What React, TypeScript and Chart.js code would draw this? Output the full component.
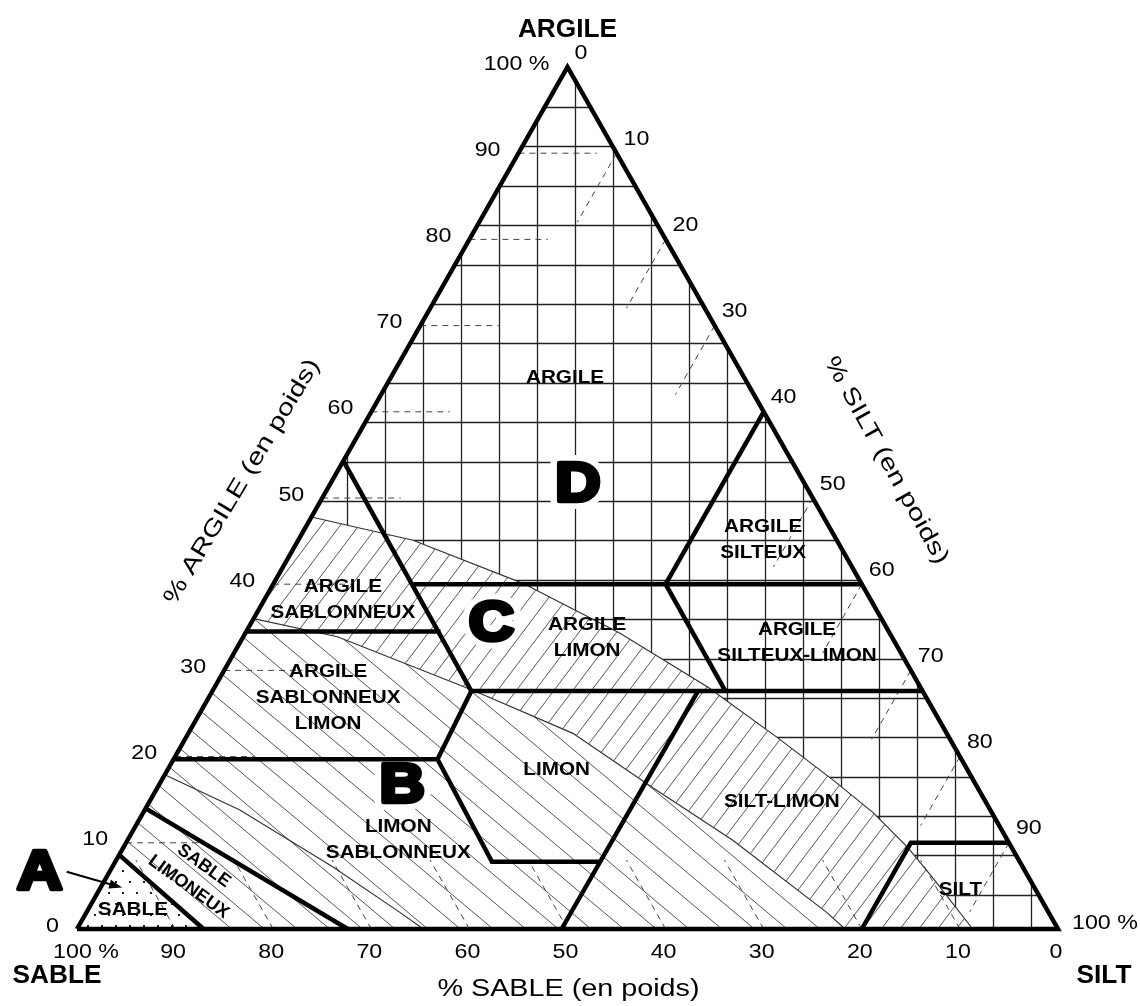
import React, { useEffect, useRef } from "react";
import { Chart, registerables } from "chart.js";

Chart.register(...registerables);

// ---- Soil texture triangle. Every point is [silt %, clay %]; sand % = 100 - silt - clay ----
const outlineSilt = [0, 100, 0, 0];
const outlineClay = [0, 0, 100, 0];

// class boundaries (thick lines)
const sableSilt = [0, 12.9];
const sableClay = [8.6, 0];
const sableLimoneuxSilt = [0, 27.6];
const sableLimoneuxClay = [14, 0];
const limonSablonneuxSilt = [0, 26.9, 38.4, 49.3];
const limonSablonneuxClay = [19.7, 19.7, 7.8, 7.8];
const limonRightSilt = [49.4, 49.5];
const limonRightClay = [0, 27.6];
const limonLeftSilt = [26.9, 26.4];
const limonLeftClay = [19.7, 27.6];
const clay27Silt = [26.4, 72.4];
const clay27Clay = [27.6, 27.6];
const sand45Silt = [0, 26.4];
const sand45Clay = [54.3, 27.6];
const clay35Silt = [0, 19.8];
const clay35Clay = [34.5, 34.5];
const clay40Silt = [14.3, 60];
const clay40Clay = [40, 40];
const silt40Silt = [40, 40];
const silt40Clay = [40, 60];
const sand20Silt = [40, 52.3];
const sand20Clay = [40, 27.6];
const siltClassSilt = [80, 80, 90];
const siltClassClay = [0, 10, 10];

// zone curves (thin lines)
const upperCurveSilt = [0, 11.7, 25.4, 38.2, 50.2, 60.3, 68.4, 74.4, 79.9, 84.2, 91.3];
const upperCurveClay = [47.8, 45.1, 40.1, 34.3, 28.1, 22.2, 17.3, 13.5, 9.5, 6.0, 0];
const lowerCurveSilt = [0, 9.6, 26.5, 39.2, 50.5, 61.7, 75.5, 78.3];
const lowerCurveClay = [36, 33.9, 27.7, 22.7, 16.4, 10.3, 1.9, 0];
const innerCurveSilt = [0, 9.7, 22.5, 32.0, 35.3];
const innerCurveClay = [17.9, 13.8, 7.2, 1.9, 0];

// ticks
const tickValues = [0, 10, 20, 30, 40, 50, 60, 70, 80, 90, 100];
const tickLabels = ["0", "10", "20", "30", "40", "50", "60", "70", "80", "90", "100 %"];
const dashedTicks = [10, 20, 30, 40, 50, 60, 70, 80, 90];

// class labels
const classNames = [
  "ARGILE",
  "ARGILE\nSILTEUX",
  "ARGILE\nSABLONNEUX",
  "ARGILE\nLIMON",
  "ARGILE\nSILTEUX-LIMON",
  "ARGILE\nSABLONNEUX\nLIMON",
  "LIMON",
  "LIMON\nSABLONNEUX",
  "SILT-LIMON",
  "SILT",
  "SABLE",
  "SABLE\nLIMONEUX",
];
const classSilt = [17.8, 47.4, 8.0, 35.1, 56.8, 12.2, 39.7, 27.6, 64.5, 87.8, 4.6, 9.1];
const classClay = [63.9, 45.1, 38.2, 33.8, 33.2, 26.8, 18.4, 10.3, 14.7, 4.5, 2.2, 6.1];
const classAngle = [0, 0, 0, 0, 0, 0, 0, 0, 0, 0, 0, 36];

// zone letters
const zoneNames = ["A", "B", "C", "D"];
const zoneSilt = [-7.0, 24.9, 24.6, 25.3];
const zoneClay = [6.4, 16.5, 35.3, 51.5];
const arrowTip = [2.2, 4.8];

// background grid of zone D
const gridU0 = 50.76;
const gridStepU = 3.87;
const gridV0 = 95.36;
const gridStepV = 4.57;

const toPts = (s: number[], c: number[]) => s.map((v, i) => ({ x: v + c[i] / 2, y: c[i] }));
const zip = (s: number[], c: number[]) => s.map((v, i) => [v, c[i]]);

const thick = (s: number[], c: number[]) => ({
  data: toPts(s, c),
  showLine: true,
  borderColor: "#000",
  borderWidth: 4.5,
  pointRadius: 0,
  fill: false,
  tension: 0,
  clip: false as any,
  borderJoinStyle: "miter" as const,
});
const thin = (s: number[], c: number[]) => ({
  data: toPts(s, c),
  showLine: true,
  borderColor: "#333",
  borderWidth: 1.2,
  pointRadius: 0,
  fill: false,
  tension: 0,
  clip: false as any,
});
const dashed = (s: number[], c: number[]) => ({
  data: toPts(s, c),
  showLine: true,
  borderColor: "#444",
  borderWidth: 1,
  borderDash: [6, 5],
  pointRadius: 0,
  fill: false,
  tension: 0,
  clip: false as any,
});

const bigFont = "bold 56px 'Liberation Sans', Arial, sans-serif";

function drawText(
  ctx: CanvasRenderingContext2D,
  text: string,
  x: number,
  y: number,
  font: string,
  sx = 1,
  rot = 0,
  align: CanvasTextAlign = "center",
  lineH = 26,
  heavy = 0,
  haloOnly = 0
) {
  ctx.save();
  ctx.translate(x, y);
  if (rot) ctx.rotate(rot);
  ctx.scale(sx, 1);
  ctx.font = font;
  ctx.textAlign = align;
  ctx.textBaseline = "middle";
  ctx.lineJoin = "round";
  const lines = text.split("\n");
  lines.forEach((ln, i) => {
    const yy = (i - (lines.length - 1) / 2) * lineH;
    if (haloOnly) {
      ctx.strokeStyle = "#fff";
      ctx.fillStyle = "#fff";
      ctx.lineWidth = haloOnly;
      ctx.strokeText(ln, 0, yy);
      ctx.fillText(ln, 0, yy);
      return;
    }
    ctx.fillStyle = "#000";
    ctx.fillText(ln, 0, yy);
    if (heavy) {
      ctx.strokeStyle = "#000";
      ctx.lineWidth = heavy;
      ctx.strokeText(ln, 0, yy);
    }
  });
  ctx.restore();
}

const texturePlugin = {
  id: "textures",
  beforeDatasetsDraw(chart: any) {
    const ctx: CanvasRenderingContext2D = chart.ctx;
    const xs = chart.scales.x;
    const ys = chart.scales.y;
    const px = (s: number, c: number) => [xs.getPixelForValue(s + c / 2), ys.getPixelForValue(c)];
    const area = chart.chartArea;
    const path = (pts: number[][]) => {
      ctx.beginPath();
      pts.forEach(([s, c], i) => {
        const [x, y] = px(s, c);
        if (i) ctx.lineTo(x, y);
        else ctx.moveTo(x, y);
      });
      ctx.closePath();
    };
    const upper = zip(upperCurveSilt, upperCurveClay);
    const lower = zip(lowerCurveSilt, lowerCurveClay);
    const sand = zip(sableSilt, sableClay);
    const dZone = [...upper, [100, 0], [0, 100]];
    const cZone = [...upper, ...[...lower].reverse()];
    const bZone = [...lower, sand[1], sand[0]];
    const aZone = [[0, 0], sand[1], sand[0]];

    const hatch = (angleDeg: number, spacing: number) => {
      const a = (angleDeg * Math.PI) / 180;
      const dx = Math.cos(a);
      const dy = -Math.sin(a);
      const nx = -dy;
      const ny = dx;
      const cx = (area.left + area.right) / 2;
      const cy = (area.top + area.bottom) / 2;
      const R = Math.hypot(area.right - area.left, area.bottom - area.top);
      const n = Math.ceil(R / spacing);
      ctx.beginPath();
      for (let k = -n; k <= n; k++) {
        const ox = cx + nx * k * spacing;
        const oy = cy + ny * k * spacing;
        ctx.moveTo(ox - dx * R, oy - dy * R);
        ctx.lineTo(ox + dx * R, oy + dy * R);
      }
      ctx.stroke();
    };

    // Zone D: square grid
    ctx.save();
    path(dZone);
    ctx.clip();
    ctx.strokeStyle = "#222";
    ctx.lineWidth = 1.3;
    ctx.beginPath();
    const us: number[] = [];
    for (let u = gridU0; u < 100; u += gridStepU) us.push(u);
    for (let u = gridU0 - gridStepU; u > 0; u -= gridStepU) us.push(u);
    us.forEach((u) => {
      const x = Math.round(xs.getPixelForValue(u)) + 0.5;
      ctx.moveTo(x, area.top);
      ctx.lineTo(x, area.bottom);
    });
    for (let v = gridV0; v > 0; v -= gridStepV) {
      const y = Math.round(ys.getPixelForValue(v)) + 0.5;
      ctx.moveTo(area.left, y);
      ctx.lineTo(area.right, y);
    }
    ctx.stroke();
    ctx.restore();

    // Zone C: "/" hatching
    ctx.save();
    path(cZone);
    ctx.clip();
    ctx.strokeStyle = "#555";
    ctx.lineWidth = 1;
    hatch(53, 15);
    ctx.restore();

    // Zone B: "\" hatching
    ctx.save();
    path(bZone);
    ctx.clip();
    ctx.strokeStyle = "#555";
    ctx.lineWidth = 1;
    hatch(-40, 21);
    ctx.restore();

    // Zone A: dots
    ctx.save();
    path(aZone);
    ctx.clip();
    ctx.fillStyle = "#222";
    let row = 0;
    for (let y = area.bottom - 4; y > area.bottom - 100; y -= 11, row++) {
      for (let x = area.left + (row % 2 ? 3 : 10); x < area.left + 140; x += 14) {
        ctx.fillRect(x, y, 2, 2);
      }
    }
    ctx.restore();

    // white clearing behind the zone letters (before boundaries are drawn)
    zoneNames.forEach((z, i) => {
      if (i === 0) return;
      const [x, y] = px(zoneSilt[i], zoneClay[i]);
      drawText(ctx, z, x, y, bigFont, 1.12, 0, "center", 26, 0, 16);
    });
  },
  afterDatasetsDraw(chart: any) {
    const ctx: CanvasRenderingContext2D = chart.ctx;
    const xs = chart.scales.x;
    const ys = chart.scales.y;
    const px = (s: number, c: number) => [xs.getPixelForValue(s + c / 2), ys.getPixelForValue(c)];
    const tickFont = "20px 'Liberation Sans', Arial, sans-serif";
    const tickSx = 1.16;

    // clay ticks (left edge)
    tickValues.forEach((v, i) => {
      const [x, y] = px(0, v);
      drawText(ctx, tickLabels[i], x - 18, y - 3, tickFont, tickSx, 0, "right");
    });
    // silt ticks (right edge)
    tickValues.forEach((v, i) => {
      const [x, y] = px(v, 100 - v);
      drawText(ctx, tickLabels[i], x + (i === 10 ? 14 : 7), y - (i === 10 ? 6 : 14), tickFont, tickSx, 0, "left");
    });
    // sand ticks (bottom)
    tickValues.forEach((v, i) => {
      const [x, y] = px(100 - v, 0);
      drawText(ctx, tickLabels[i], x + (i === 10 ? 9 : -2), y + 23, tickFont, tickSx, 0, "center");
    });

    // corner titles
    const [tx, ty] = px(0, 100);
    drawText(ctx, "ARGILE", tx, ty - 37, "bold 25px 'Liberation Sans', Arial, sans-serif", 1.05);
    const [lx, ly] = px(0, 0);
    drawText(ctx, "SABLE", lx - 20, ly + 47, "bold 25px 'Liberation Sans', Arial, sans-serif", 1.05);
    const [rx, ry] = px(100, 0);
    drawText(ctx, "SILT", rx + 46, ry + 47, "bold 25px 'Liberation Sans', Arial, sans-serif", 1.05);

    // axis titles
    const titleFont = "23px 'Liberation Sans', Arial, sans-serif";
    const [bx, by] = px(50, 0);
    drawText(ctx, "% SABLE (en poids)", bx + 1, by + 61, titleFont, 1.25);
    const [ax, ay] = px(0, 52);
    drawText(ctx, "% ARGILE (en poids)", ax - 90, ay + 1, titleFont, 1.28, (-59 * Math.PI) / 180);
    const [sx2, sy2] = px(46, 54);
    drawText(ctx, "% SILT (en poids)", sx2 + 93, sy2 - 3, titleFont, 1.28, (61 * Math.PI) / 180);

    // class labels
    const labelFont = "bold 18px 'Liberation Sans', Arial, sans-serif";
    classNames.forEach((name, i) => {
      const [x, y] = px(classSilt[i], classClay[i]);
      drawText(ctx, name, x, y, labelFont, classAngle[i] ? 1.0 : 1.15, (classAngle[i] * Math.PI) / 180, "center", 26);
    });

    // zone letters
    zoneNames.forEach((z, i) => {
      const [x, y] = px(zoneSilt[i], zoneClay[i]);
      drawText(ctx, z, x, y, bigFont, 1.12, 0, "center", 26, 4.5);
    });

    // arrow A -> sable
    const [sx0, sy0] = px(zoneSilt[0], zoneClay[0]);
    const [ex, ey] = px(arrowTip[0], arrowTip[1]);
    const fx = sx0 + 27;
    const fy = sy0 - 2;
    const ang = Math.atan2(ey - fy, ex - fx);
    ctx.save();
    ctx.strokeStyle = "#000";
    ctx.fillStyle = "#000";
    ctx.lineWidth = 2;
    ctx.beginPath();
    ctx.moveTo(fx, fy);
    ctx.lineTo(ex - 8 * Math.cos(ang), ey - 8 * Math.sin(ang));
    ctx.stroke();
    ctx.beginPath();
    ctx.moveTo(ex, ey);
    ctx.lineTo(ex - 13 * Math.cos(ang) + 4.5 * Math.sin(ang), ey - 13 * Math.sin(ang) - 4.5 * Math.cos(ang));
    ctx.lineTo(ex - 13 * Math.cos(ang) - 4.5 * Math.sin(ang), ey - 13 * Math.sin(ang) + 4.5 * Math.cos(ang));
    ctx.closePath();
    ctx.fill();
    ctx.restore();
  },
};

export default function App() {
  const ref = useRef<HTMLCanvasElement | null>(null);
  useEffect(() => {
    if (!ref.current) return;
    const tickLen = 8;
    const dashSets: any[] = [];
    dashedTicks.forEach((v) => {
      // clay ticks: horizontal from left edge
      dashSets.push(dashed([0, tickLen], [v, v]));
      // silt ticks: constant silt from right edge
      dashSets.push(dashed([v, v], [100 - v, Math.max(0, 100 - v - tickLen)]));
      // sand ticks: constant sand from bottom edge
      dashSets.push(dashed([100 - v, Math.max(0, 100 - v - tickLen)], [0, Math.min(100 - v, tickLen)]));
    });
    const chart = new Chart(ref.current, {
      type: "scatter",
      data: {
        datasets: [
          thick(outlineSilt, outlineClay),
          thick(sableSilt, sableClay),
          thick(sableLimoneuxSilt, sableLimoneuxClay),
          thick(limonSablonneuxSilt, limonSablonneuxClay),
          thick(limonRightSilt, limonRightClay),
          thick(limonLeftSilt, limonLeftClay),
          thick(clay27Silt, clay27Clay),
          thick(sand45Silt, sand45Clay),
          thick(clay35Silt, clay35Clay),
          thick(clay40Silt, clay40Clay),
          thick(silt40Silt, silt40Clay),
          thick(sand20Silt, sand20Clay),
          thick(siltClassSilt, siltClassClay),
          thin(upperCurveSilt, upperCurveClay),
          thin(lowerCurveSilt, lowerCurveClay),
          thin(innerCurveSilt, innerCurveClay),
          ...dashSets,
        ] as any,
      },
      options: {
        animation: false,
        responsive: false,
        events: [],
        layout: { padding: { left: 77, right: 82, top: 67, bottom: 77 } },
        scales: {
          x: { type: "linear", min: 0, max: 100, display: false },
          y: { type: "linear", min: 0, max: 100, display: false },
        },
        plugins: { legend: { display: false }, tooltip: { enabled: false } },
      } as any,
      plugins: [texturePlugin as any],
    });
    return () => chart.destroy();
  }, []);
  return (
    <div style={{ position: "absolute", left: 0, top: 0, width: 1140, height: 1006, background: "#fff" }}>
      <canvas ref={ref} width={1140} height={1006} style={{ display: "block" }} />
    </div>
  );
}
